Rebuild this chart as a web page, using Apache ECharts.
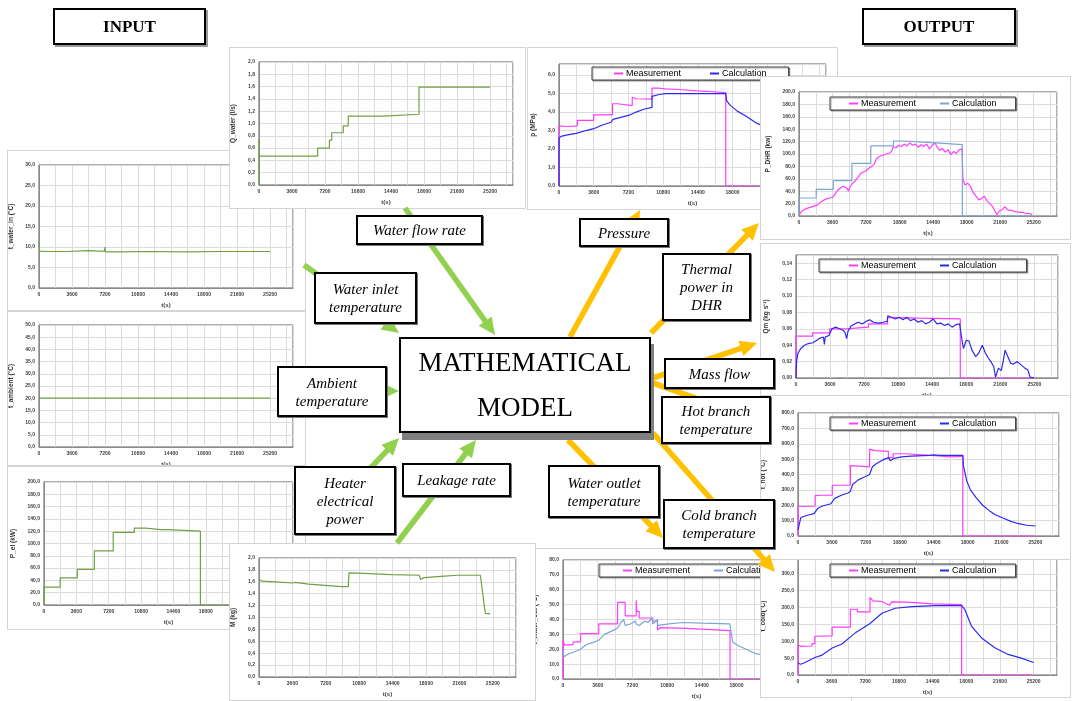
<!DOCTYPE html>
<html>
<head>
<meta charset="utf-8">
<script src="https://cdn.jsdelivr.net/npm/echarts@6/dist/echarts.min.js"></script>
<style>
  body { margin: 0; width: 1077px; height: 701px; overflow: hidden; position: relative; background: #fff; }
  .panel { position: absolute; background: #fff; border: 1px solid #d4d4d4; box-sizing: border-box; }
  .box { position: absolute; box-sizing: border-box; background: #fff; border: 2px solid #000;
         box-shadow: 1px 1px 0 #777; display: flex; align-items: center; justify-content: center;
         text-align: center; font-family: "Liberation Serif", serif; font-style: italic; font-size: 15px;
         line-height: 18px; color: #000; z-index: 10; }
  .title { font-style: normal; font-weight: bold; font-size: 17px; box-shadow: 2px 2px 0 #999; }
  .model { font-style: normal; font-size: 27px; line-height: 45px; border-width: 2px; box-shadow: 3px 7px 0 #808080; }
  #arrows { position: absolute; left: 0; top: 0; width: 1077px; height: 701px; z-index: 6; pointer-events: none; }
</style>
</head>
<body>
<div id="arrows"></div>
<script>
// time axis ticks (s)
const xTicks = [0, 3600, 7200, 10800, 14400, 18000, 21600, 25200];

// ---- inputs ----
const tWaterIn = [[0, 11.2], [60, 9.0], [1000, 8.9], [3000, 8.9], [5400, 9.1], [6600, 9.0], [7150, 9.0], [7200, 10.0],
  [7250, 8.8], [9000, 8.8], [12000, 8.9], [16000, 8.8], [20000, 8.9], [25200, 8.9]];
const tAmbient = [[0, 20], [25200, 20]];
const pEl = [[0, 0], [0, 29], [1800, 29], [1800, 44], [3700, 44], [3700, 58], [5600, 58], [5600, 88], [7700, 88],
  [7700, 118], [10050, 118], [10050, 125], [11300, 125], [11300, 123], [13000, 122.5], [13700, 122.5], [13700, 120],
  [17400, 120], [17400, 0], [25200, 0]];
const qWater = [[0, 0], [0, 0.74], [20, 0.47], [6400, 0.47], [6400, 0.6], [7680, 0.6], [7680, 0.73], [7930, 0.73],
  [7930, 0.85], [9190, 0.85], [9190, 0.96], [9730, 0.96], [9730, 1.12], [13600, 1.12], [13600, 1.15], [17450, 1.15],
  [17450, 1.59], [25200, 1.59]];
const leakM = [[0, 1.64], [350, 1.61], [1800, 1.6], [3560, 1.58], [3900, 1.59], [5340, 1.56], [7120, 1.54], [8900, 1.52],
  [9620, 1.52], [9700, 1.75], [11400, 1.74], [14250, 1.72], [17270, 1.71], [17400, 1.64], [17800, 1.67], [19600, 1.69],
  [21400, 1.71], [23860, 1.71], [24390, 1.07], [24930, 1.06]];

// ---- outputs ----
const pMeas = [[0, 0], [0, 3.25], [900, 3.22], [1900, 3.25], [1900, 3.55], [3600, 3.55], [3600, 3.85], [5550, 3.85],
  [5550, 4.45], [6100, 4.45], [6100, 4.35], [7600, 4.35], [7600, 4.8], [8000, 4.72], [9650, 4.7], [9650, 5.3],
  [10300, 5.3], [11000, 5.25], [12500, 5.22], [14400, 5.15], [16000, 5.1], [17300, 5.05], [17300, 0], [25200, 0]];
const pCalc = [[0, 0], [0, 2.6], [300, 2.7], [1000, 2.78], [1800, 2.85], [2800, 3.0], [3600, 3.1], [4500, 3.3],
  [5400, 3.45], [5600, 3.6], [6700, 3.75], [7400, 3.85], [8000, 4.0], [8800, 4.15], [9650, 4.25], [9650, 4.85],
  [10400, 4.95], [11000, 5.0], [17300, 5.0], [17400, 4.6], [17800, 4.35], [18500, 4.05], [19500, 3.75], [20500, 3.4],
  [21600, 3.15], [23400, 2.8], [25200, 2.5]];

const pDhrMeas = [[0, 0], [150, 5], [400, 9], [800, 12], [1200, 14], [1600, 16], [2000, 18], [2300, 22], [2600, 25],
  [3000, 28], [3300, 29], [3600, 30], [3900, 36], [4200, 42], [4500, 46], [4800, 48], [5000, 46], [5200, 44], [5300, 40],
  [5450, 46], [5700, 52], [6000, 56], [6300, 62], [6600, 68], [6900, 71], [7200, 73], [7500, 77], [7800, 80], [8100, 84],
  [8300, 92], [8600, 96], [9000, 98], [9400, 100], [9800, 102], [10000, 106], [10100, 112], [10400, 110], [10700, 114],
  [11000, 112], [11300, 116], [11600, 113], [11900, 118], [12200, 114], [12500, 116], [12800, 111], [13100, 115],
  [13400, 112], [13700, 116], [14000, 108], [14300, 114], [14600, 118], [14800, 112], [15100, 106], [15400, 109],
  [15700, 103], [16000, 107], [16300, 99], [16600, 104], [16900, 101], [17200, 107], [17500, 108], [17600, 60],
  [17800, 50], [18100, 53], [18400, 48], [18700, 38], [19000, 32], [19300, 26], [19600, 28], [19900, 32], [20200, 24],
  [20500, 20], [20800, 15], [21000, 14], [21250, 2], [21500, 8], [21800, 10], [22100, 15], [22400, 10], [22800, 9],
  [23200, 7], [23600, 6], [24000, 6], [24400, 4], [24800, 4], [25000, 2]];
const pDhrCalc = [[0, 0], [0, 29], [1850, 29], [1850, 43], [3680, 43], [3680, 57], [5680, 57], [5680, 85], [7710, 85],
  [7710, 113], [10140, 113], [10140, 121], [11280, 121], [11280, 119], [13250, 119], [13250, 118], [14680, 118],
  [14680, 115], [17540, 115], [17540, 0], [25200, 0]];

const qmMeas = [[0, 0], [0, 0.051], [1750, 0.051], [1750, 0.055], [3560, 0.055], [3560, 0.060], [5300, 0.060],
  [5300, 0.062], [7650, 0.062], [7650, 0.066], [9680, 0.066], [9680, 0.074], [13000, 0.073], [17370, 0.072],
  [17370, 0], [25200, 0]];
const qmCalc = [[0, 0], [60, 0.02], [200, 0.03], [500, 0.036], [900, 0.04], [1300, 0.042], [1800, 0.043], [2200, 0.046],
  [2600, 0.049], [2900, 0.05], [3000, 0.041], [3100, 0.05], [3500, 0.052], [3800, 0.06], [4200, 0.062], [4600, 0.06],
  [5000, 0.058], [5200, 0.055], [5350, 0.048], [5500, 0.057], [5800, 0.063], [6200, 0.066], [6600, 0.068], [7000, 0.066],
  [7400, 0.069], [7800, 0.071], [8200, 0.068], [8700, 0.067], [9200, 0.068], [9650, 0.069], [9700, 0.076], [10100, 0.074],
  [10500, 0.072], [10900, 0.074], [11300, 0.071], [11700, 0.074], [12100, 0.07], [12500, 0.072], [12900, 0.068],
  [13300, 0.07], [13700, 0.066], [14100, 0.068], [14500, 0.072], [14900, 0.066], [15300, 0.067], [15700, 0.064],
  [16100, 0.066], [16500, 0.062], [16900, 0.065], [17300, 0.066], [17500, 0.05], [17700, 0.036], [18000, 0.046],
  [18300, 0.045], [18600, 0.034], [19000, 0.026], [19300, 0.03], [19700, 0.04], [20000, 0.031], [20300, 0.025],
  [20600, 0.02], [20900, 0.014], [21100, 0.001], [21400, 0.012], [21700, 0.009], [21900, 0.02], [22100, 0.034],
  [22400, 0.026], [22700, 0.018], [23000, 0.017], [23400, 0.02], [23800, 0.016], [24200, 0.012], [24500, 0.01],
  [24750, 0.001], [25200, 0]];

const tHotMeas = [[0, 0], [0, 195], [600, 192], [1820, 195], [1820, 262], [2500, 265], [3640, 265], [3640, 330],
  [5560, 330], [5560, 458], [6440, 455], [6440, 448], [7600, 450], [7600, 565], [8200, 555], [9590, 550], [9590, 510],
  [10100, 510], [10100, 535], [11340, 535], [11340, 528], [14140, 525], [14140, 515], [16300, 515], [16300, 520],
  [17490, 520], [17490, 0], [25200, 0]];
const tHotCalc = [[0, 40], [300, 120], [1000, 135], [1700, 145], [1820, 150], [2100, 180], [2600, 195], [3500, 210],
  [3650, 215], [3900, 245], [4600, 265], [5300, 280], [5550, 290], [5800, 335], [6400, 365], [7100, 385], [7600, 400],
  [7900, 450], [8300, 470], [9000, 495], [9600, 510], [9800, 490], [10200, 505], [11000, 515], [12000, 520],
  [14000, 525], [14400, 528], [15000, 524], [17500, 524], [17550, 460], [17900, 360], [18300, 300], [18900, 250],
  [19600, 200], [20300, 165], [20900, 140], [21800, 115], [22600, 95], [23400, 80], [24300, 70], [25200, 65]];

const tColdMeas = [[0, 0], [0, 90], [300, 85], [1500, 86], [1500, 93], [1800, 93], [1800, 115], [3650, 116],
  [3650, 142], [5600, 142], [5600, 195], [6350, 195], [6350, 187], [7700, 187], [7700, 230], [8000, 220], [9000, 218],
  [9400, 212], [9800, 207], [10000, 217], [11500, 216], [13000, 214], [14400, 211], [17500, 209], [17500, 0], [25200, 0]];
const tColdCalc = [[0, 35], [300, 32], [800, 38], [1800, 52], [2500, 58], [3660, 80], [4700, 92], [5610, 113],
  [6140, 125], [7670, 152], [8980, 183], [10400, 198], [12180, 203], [14660, 206], [17500, 206], [17860, 193],
  [18570, 144], [19630, 110], [21050, 81], [22470, 61], [23890, 50], [25200, 37]];

const tOutMeas = [[0, 0], [0, 26], [150, 23], [1000, 23], [1100, 25], [1820, 25], [1820, 30.5], [3710, 30.5],
  [3710, 37], [5660, 37], [5660, 51.5], [6450, 51.5], [6450, 42.5], [7590, 42.5], [7590, 53], [7650, 45.5], [7900, 45.5],
  [7900, 41], [9300, 41], [9300, 39], [9800, 39], [9800, 33], [10100, 34.5], [12800, 34], [12800, 33], [17330, 32.5],
  [17330, 0], [25200, 0]];
const tOutCalc = [[0, 19], [100, 15], [600, 17], [1500, 19], [1800, 20], [2400, 23], [3300, 25], [3700, 26], [4300, 30],
  [5000, 32], [5600, 34], [5800, 35.5], [6000, 38], [6300, 40], [6450, 36], [7000, 37], [7500, 39], [7600, 37],
  [7900, 36], [8500, 39], [8800, 38], [9250, 41], [9300, 37], [9800, 40], [9810, 36], [11000, 37], [12500, 38],
  [14400, 37.5], [17300, 37], [17400, 33], [17600, 25], [18000, 23], [19000, 20], [20000, 17], [21600, 15],
  [23400, 13], [25200, 11]];

const GREEN = '#70a044', MAGENTA = '#ff3cff', BLUE = '#2b2bf0', LIGHTBLUE = '#7aa6d6';
const FONT = 'Liberation Sans';

const panels = [
  { x: 7, y: 150, w: 299, h: 161, z: 2, grid: [31, 14, 12, 22], yMax: 30, yInt: 5, dec: 1, yName: 't_water_in (°C)', gap: 21, xGap: 12,
    series: [{ name: 'in', data: tWaterIn, color: GREEN }] },
  { x: 7, y: 311, w: 299, h: 155, z: 2, grid: [31, 13, 12, 18], yMax: 50, yInt: 5, dec: 1, yName: 't_ambient (°C)', gap: 21, xGap: 11,
    series: [{ name: 'amb', data: tAmbient, color: GREEN }] },
  { x: 7, y: 466, w: 299, h: 164, z: 2, grid: [36, 15, 12, 24], yMax: 200, yInt: 20, dec: 1, yName: 'P_el (kW)', gap: 24, xGap: 13,
    series: [{ name: 'pel', data: pEl, color: GREEN }] },
  { x: 229, y: 47, w: 297, h: 162, z: 3, grid: [29, 14, 12, 23], yMax: 2, yInt: 0.2, dec: 1, yName: 'Q_water (l/s)', gap: 18, xGap: 13,
    series: [{ name: 'q', data: qWater, color: GREEN }] },
  { x: 229, y: 543, w: 307, h: 158, z: 3, grid: [29, 14, 19, 23], yMax: 2, yInt: 0.2, dec: 1, yName: 'M (kg)', gap: 22, xGap: 13,
    series: [{ name: 'm', data: leakM, color: GREEN }] },
  { x: 527, y: 47, w: 311, h: 163, z: 2, grid: [31, 16, 11, 23], yMax: 6.6, yInt: 1, dec: 1, yName: 'p (MPa)', gap: 16, xGap: 13,
    legend: [64, 19, 22, 29],
    series: [{ name: 'Measurement', data: pMeas, color: MAGENTA }, { name: 'Calculation', data: pCalc, color: BLUE }] },
  { x: 760, y: 76, w: 311, h: 164, z: 3, grid: [38, 15, 13, 23], yMax: 200, yInt: 20, dec: 1, yName: 'P_DHR (kw)', gap: 27, xGap: 13,
    legend: [69, 20, 19, 24],
    series: [{ name: 'Measurement', data: pDhrMeas, color: MAGENTA }, { name: 'Calculation', data: pDhrCalc, color: LIGHTBLUE }] },
  { x: 760, y: 243, w: 311, h: 154, z: 2, grid: [35, 11, 12, 18], yMax: 0.15, yInt: 0.02, dec: 2, yName: 'Qm (kg s⁻¹)', gap: 26, xGap: 11,
    legend: [58, 15, 30, 24],
    series: [{ name: 'Measurement', data: qmMeas, color: MAGENTA }, { name: 'Calculation', data: qmCalc, color: BLUE }] },
  { x: 532, y: 548, w: 320, h: 161, z: 2, grid: [30, 11, 21, 29], yMax: 80, yInt: 10, dec: 1, yName: 't_water_out (°C)', gap: 22, xGap: 13,
    legend: [66, 15, 24, 24],
    series: [{ name: 'Measurement', data: tOutMeas, color: MAGENTA }, { name: 'Calculation', data: tOutCalc, color: LIGHTBLUE }] },
  { x: 760, y: 545, w: 311, h: 153, z: 3, grid: [37, 11, 13, 22], yMax: 350, yInt: 50, dec: 1, yName: 't_cold(°C)', gap: 31, xGap: 12,
    legend: [69, 18, 19, 24],
    series: [{ name: 'Measurement', data: tColdMeas, color: MAGENTA }, { name: 'Calculation', data: tColdCalc, color: BLUE }] },
  { x: 760, y: 395, w: 311, h: 165, z: 4, grid: [37, 17, 11, 23], yMax: 800, yInt: 100, dec: 1, yName: 't_hot (°C)', gap: 31, xGap: 13,
    legend: [69, 21, 19, 24],
    series: [{ name: 'Measurement', data: tHotMeas, color: MAGENTA }, { name: 'Calculation', data: tHotCalc, color: BLUE }] }
];

const isStep = (v, step) => Math.abs(v / step - Math.round(v / step)) < 1e-6;

panels.forEach(p => {
  const div = document.createElement('div');
  div.className = 'panel';
  div.style.cssText = `left:${p.x}px;top:${p.y}px;width:${p.w}px;height:${p.h}px;z-index:${p.z}`;
  document.body.appendChild(div);
  const chart = echarts.init(div, null, { renderer: 'canvas' });
  const tick = { fontSize: 5, fontFamily: FONT, fontWeight: 'bold', color: '#404040' };
  const option = {
    animation: false,
    textStyle: { fontFamily: FONT },
    grid: { left: p.grid[0], top: p.grid[1], right: p.grid[2], bottom: p.grid[3], show: true,
            borderColor: '#5a5a5a', borderWidth: 1, containLabel: false, outerBoundsMode: 'none' },
    xAxis: {
      type: 'value', min: 0, max: 27700, interval: 1800,
      name: 't(s)', nameLocation: 'middle', nameGap: p.xGap,
      nameTextStyle: { fontSize: 6, fontWeight: 'bold', color: '#404040' },
      axisLine: { lineStyle: { color: '#8a8a8a' } }, axisTick: { show: false },
      axisLabel: Object.assign({ margin: 4, formatter: v => (xTicks.includes(v) ? String(v) : '') }, tick),
      splitLine: { show: true, lineStyle: { color: '#dcdcdc', width: 1 } }
    },
    yAxis: {
      type: 'value', min: 0, max: p.yMax, interval: p.yInt,
      name: p.yName, nameLocation: 'middle', nameGap: p.gap, nameRotate: 90,
      nameTextStyle: { fontSize: 6.5, fontWeight: 'bold', color: '#333' },
      axisLine: { show: true, lineStyle: { color: '#8a8a8a' } }, axisTick: { show: false },
      axisLabel: Object.assign({ margin: 4, formatter: v => (isStep(v, p.yInt) ? v.toFixed(p.dec).replace('.', ',') : '') }, tick),
      splitLine: { show: true, lineStyle: { color: '#dcdcdc', width: 1 } }
    },
    series: p.series.map(s => ({
      name: s.name, type: 'line', data: s.data, symbol: 'none', smooth: false,
      lineStyle: { color: s.color, width: 1.2 }, itemStyle: { color: s.color }
    }))
  };
  if (p.legend) {
    option.legend = {
      left: p.legend[0], top: p.legend[1], padding: [2, p.legend[2]], itemGap: p.legend[3],
      itemWidth: 9, itemHeight: 2, icon: 'rect',
      backgroundColor: '#fff', borderColor: '#404040', borderWidth: 1,
      shadowColor: 'rgba(0,0,0,0.35)', shadowOffsetX: 1, shadowOffsetY: 1, shadowBlur: 1,
      textStyle: { fontSize: 9, color: '#000', fontFamily: FONT, padding: [0, 0, 0, -2] },
      data: ['Measurement', 'Calculation']
    };
  }
  chart.setOption(option);
});

// arrows between model and panels (decoration, page pixels)
const arrows = [
  { from: [405, 208], to: [495, 335], color: '#92d050' },
  { from: [304, 265], to: [399, 333], color: '#92d050' },
  { from: [330, 391], to: [399, 391], color: '#92d050' },
  { from: [340, 500], to: [399, 438], color: '#92d050' },
  { from: [397, 543], to: [476, 440], color: '#92d050' },
  { from: [570, 337], to: [640, 210], color: '#ffc000' },
  { from: [651, 333], to: [759, 223], color: '#ffc000' },
  { from: [653, 378], to: [757, 343], color: '#ffc000' },
  { from: [653, 383], to: [757, 420], color: '#ffc000' },
  { from: [568, 440], to: [663, 538], color: '#ffc000' },
  { from: [653, 433], to: [775, 572], color: '#ffc000' }
];

function arrowShape(a) {
  const [x1, y1] = a.from, [x2, y2] = a.to;
  const len = Math.hypot(x2 - x1, y2 - y1);
  const dx = (x2 - x1) / len, dy = (y2 - y1) / len;
  const px = -dy, py = dx;
  const w = 2.8, hw = 8, hl = 17;
  const bx = x2 - dx * hl, by = y2 - dy * hl;
  return [
    [x1 + px * w, y1 + py * w], [bx + px * w, by + py * w], [bx + px * hw, by + py * hw], [x2, y2],
    [bx - px * hw, by - py * hw], [bx - px * w, by - py * w], [x1 - px * w, y1 - py * w]
  ];
}

const arrowChart = echarts.init(document.getElementById('arrows'));
arrowChart.setOption({
  animation: false,
  graphic: arrows.map(a => ({ type: 'polygon', shape: { points: arrowShape(a) }, style: { fill: a.color } }))
});

// text boxes
const boxes = [
  { html: 'INPUT', x: 53, y: 8, w: 153, h: 37, cls: 'title' },
  { html: 'OUTPUT', x: 862, y: 8, w: 154, h: 37, cls: 'title' },
  { html: 'MATHEMATICAL<br>MODEL', x: 399, y: 337, w: 252, h: 96, cls: 'model' },
  { html: 'Water flow rate', x: 356, y: 215, w: 127, h: 30 },
  { html: 'Water inlet<br>temperature', x: 314, y: 272, w: 103, h: 52 },
  { html: 'Ambient<br>temperature', x: 277, y: 366, w: 110, h: 51 },
  { html: 'Heater<br>electrical<br>power', x: 294, y: 466, w: 102, h: 69 },
  { html: 'Leakage rate', x: 402, y: 463, w: 109, h: 34 },
  { html: 'Pressure', x: 579, y: 218, w: 90, h: 29 },
  { html: 'Thermal<br>power in<br>DHR', x: 662, y: 253, w: 89, h: 68 },
  { html: 'Mass flow', x: 664, y: 358, w: 111, h: 31 },
  { html: 'Hot branch<br>temperature', x: 661, y: 396, w: 110, h: 48 },
  { html: 'Water outlet<br>temperature', x: 548, y: 465, w: 112, h: 53 },
  { html: 'Cold branch<br>temperature', x: 663, y: 499, w: 112, h: 50 }
];
boxes.forEach(b => {
  const d = document.createElement('div');
  d.className = 'box' + (b.cls ? ' ' + b.cls : '');
  d.style.cssText = `left:${b.x}px;top:${b.y}px;width:${b.w}px;height:${b.h}px`;
  d.innerHTML = b.html;
  document.body.appendChild(d);
});
</script>
</body>
</html>
